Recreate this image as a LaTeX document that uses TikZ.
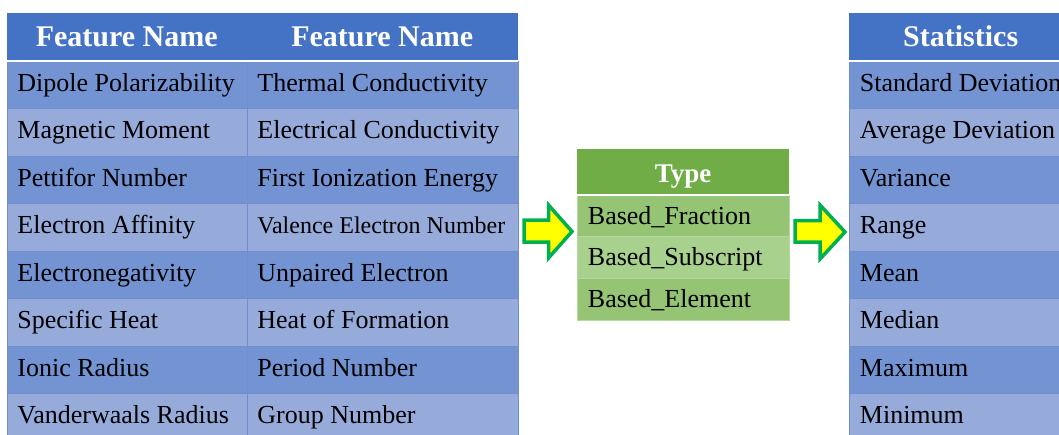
\documentclass[tikz,border=0pt]{standalone}
\usepackage{fontspec}
\setmainfont{Liberation Serif}
\usetikzlibrary{calc}
\definecolor{hblue}{HTML}{4472C4}
\definecolor{rowA}{HTML}{7393D2}
\definecolor{rowB}{HTML}{97ABDB}
\definecolor{gridc}{HTML}{6F8FD0}
\definecolor{hgreen}{HTML}{70AD47}
\definecolor{grA}{HTML}{95C475}
\definecolor{grB}{HTML}{A9D18E}
\definecolor{grline}{HTML}{B5D99C}
\definecolor{arrfill}{HTML}{FFFF00}
\definecolor{arrline}{HTML}{00B050}
\newcommand{\cl}[2]{\makebox[#1][l]{#2}}
\newcommand{\cc}[2]{\makebox[#1][c]{#2}}
\begin{document}
\begin{tikzpicture}[x=1pt,y=-1pt,
  cellbase/.style={rectangle, anchor=north west, inner xsep=10.5pt, inner ysep=0pt,
    text height=18.2pt, text depth=5.5pt,
    font=\fontsize{26}{30}\selectfont, text=black, draw=gridc, line width=0.8pt},
  bluerow/.style={cellbase, minimum height=47.5pt},
  oddrow/.style={bluerow, fill=rowA},
  evenrow/.style={bluerow, fill=rowB},
  hdrcell/.style={rectangle, anchor=north west, inner xsep=10.5pt, inner ysep=0pt,
    minimum height=48pt, fill=hblue, text=white,
    font=\fontsize{30}{34}\selectfont\bfseries, text height=24pt, text depth=5pt},
  greenrow/.style={cellbase, minimum height=41.7pt, draw=grline,
    text height=20.8pt, text depth=4.2pt},
  gA/.style={greenrow, fill=grA},
  gB/.style={greenrow, fill=grB},
  greenhdr/.style={rectangle, anchor=north west, inner xsep=10.5pt, inner ysep=0pt,
    minimum height=45.5pt, fill=hgreen, text=white,
    font=\fontsize{27}{30}\selectfont\bfseries, text height=24pt, text depth=2pt},
  sepline/.style={white, line width=1.6pt},
  bigarrow/.style={fill=arrfill, draw=arrline, line width=3.5pt, line join=miter, miter limit=10}
]
\useasboundingbox (0,0) rectangle (1059,434);
\clip (0,0) rectangle (1059,434);

% ---------- left table ----------
\node[hdrcell] (Lh1) at (6.5,12.5) {\cc{219pt}{Feature Name}};
\node[hdrcell] (Lh2) at (246.5,12.5) {\cc{250pt}{Feature Name}};

\node[oddrow]  (L11) at (6.5,60.5)   {\cl{219pt}{Dipole Polarizability}};
\node[oddrow]  (L12) at (246.5,60.5) {\cl{250pt}{Thermal Conductivity}};
\node[evenrow] (L21) at (6.5,108)    {\cl{219pt}{Magnetic Moment}};
\node[evenrow] (L22) at (246.5,108)  {\cl{250pt}{Electrical Conductivity}};
\node[oddrow]  (L31) at (6.5,155.5)  {\cl{219pt}{Pettifor Number}};
\node[oddrow]  (L32) at (246.5,155.5) {\cl{250pt}{First Ionization Energy}};
\node[evenrow] (L41) at (6.5,203)    {\cl{219pt}{Electron Affinity}};
\node[evenrow, font=\fontsize{24}{28}\selectfont] (L42) at (246.5,203) {\cl{250pt}{Valence Electron Number}};
\node[oddrow]  (L51) at (6.5,250.5)  {\cl{219pt}{Electronegativity}};
\node[oddrow]  (L52) at (246.5,250.5) {\cl{250pt}{Unpaired Electron}};
\node[evenrow] (L61) at (6.5,298)    {\cl{219pt}{Specific Heat}};
\node[evenrow] (L62) at (246.5,298)  {\cl{250pt}{Heat of Formation}};
\node[oddrow]  (L71) at (6.5,345.5)  {\cl{219pt}{Ionic Radius}};
\node[oddrow]  (L72) at (246.5,345.5) {\cl{250pt}{Period Number}};
\node[evenrow] (L81) at (6.5,393)    {\cl{219pt}{Vanderwaals Radius}};
\node[evenrow] (L82) at (246.5,393)  {\cl{250pt}{Group Number}};
\draw[sepline] (Lh1.south west) -- (Lh2.south east);

% ---------- type table ----------
\node[greenhdr] (Th) at (577,149) {\cc{191pt}{Type}};
\node[gA] (T1) at (577,194.5) {\cl{191pt}{Based\_Fraction}};
\node[gB] (T2) at (577,236.2) {\cl{191pt}{Based\_Subscript}};
\node[gA] (T3) at (577,277.9) {\cl{191pt}{Based\_Element}};
\draw[sepline] (Th.south west) -- (Th.south east);

% ---------- right table ----------
\node[hdrcell] (Sh) at (849,12.5) {\cc{202pt}{Statistics}};
\node[oddrow]  (S1) at (849,60.5)  {\cl{202pt}{Standard Deviation}};
\node[evenrow] (S2) at (849,108)   {\cl{202pt}{Average Deviation}};
\node[oddrow]  (S3) at (849,155.5) {\cl{202pt}{Variance}};
\node[evenrow] (S4) at (849,203)   {\cl{202pt}{Range}};
\node[oddrow]  (S5) at (849,250.5) {\cl{202pt}{Mean}};
\node[evenrow] (S6) at (849,298)   {\cl{202pt}{Median}};
\node[oddrow]  (S7) at (849,345.5) {\cl{202pt}{Maximum}};
\node[evenrow] (S8) at (849,393)   {\cl{202pt}{Minimum}};
\draw[sepline] (Sh.south west) -- (Sh.south east);

% ---------- arrows ----------
\draw[bigarrow] (524,220) -- (548.5,220) -- (548.5,205) -- (572,231.5)
  -- (548.5,258) -- (548.5,242) -- (524,242) -- cycle;
\draw[bigarrow] (795,220.5) -- (820,220.5) -- (820,205) -- (845,232)
  -- (820,259) -- (820,242) -- (795,242) -- cycle;
\end{tikzpicture}
\end{document}
